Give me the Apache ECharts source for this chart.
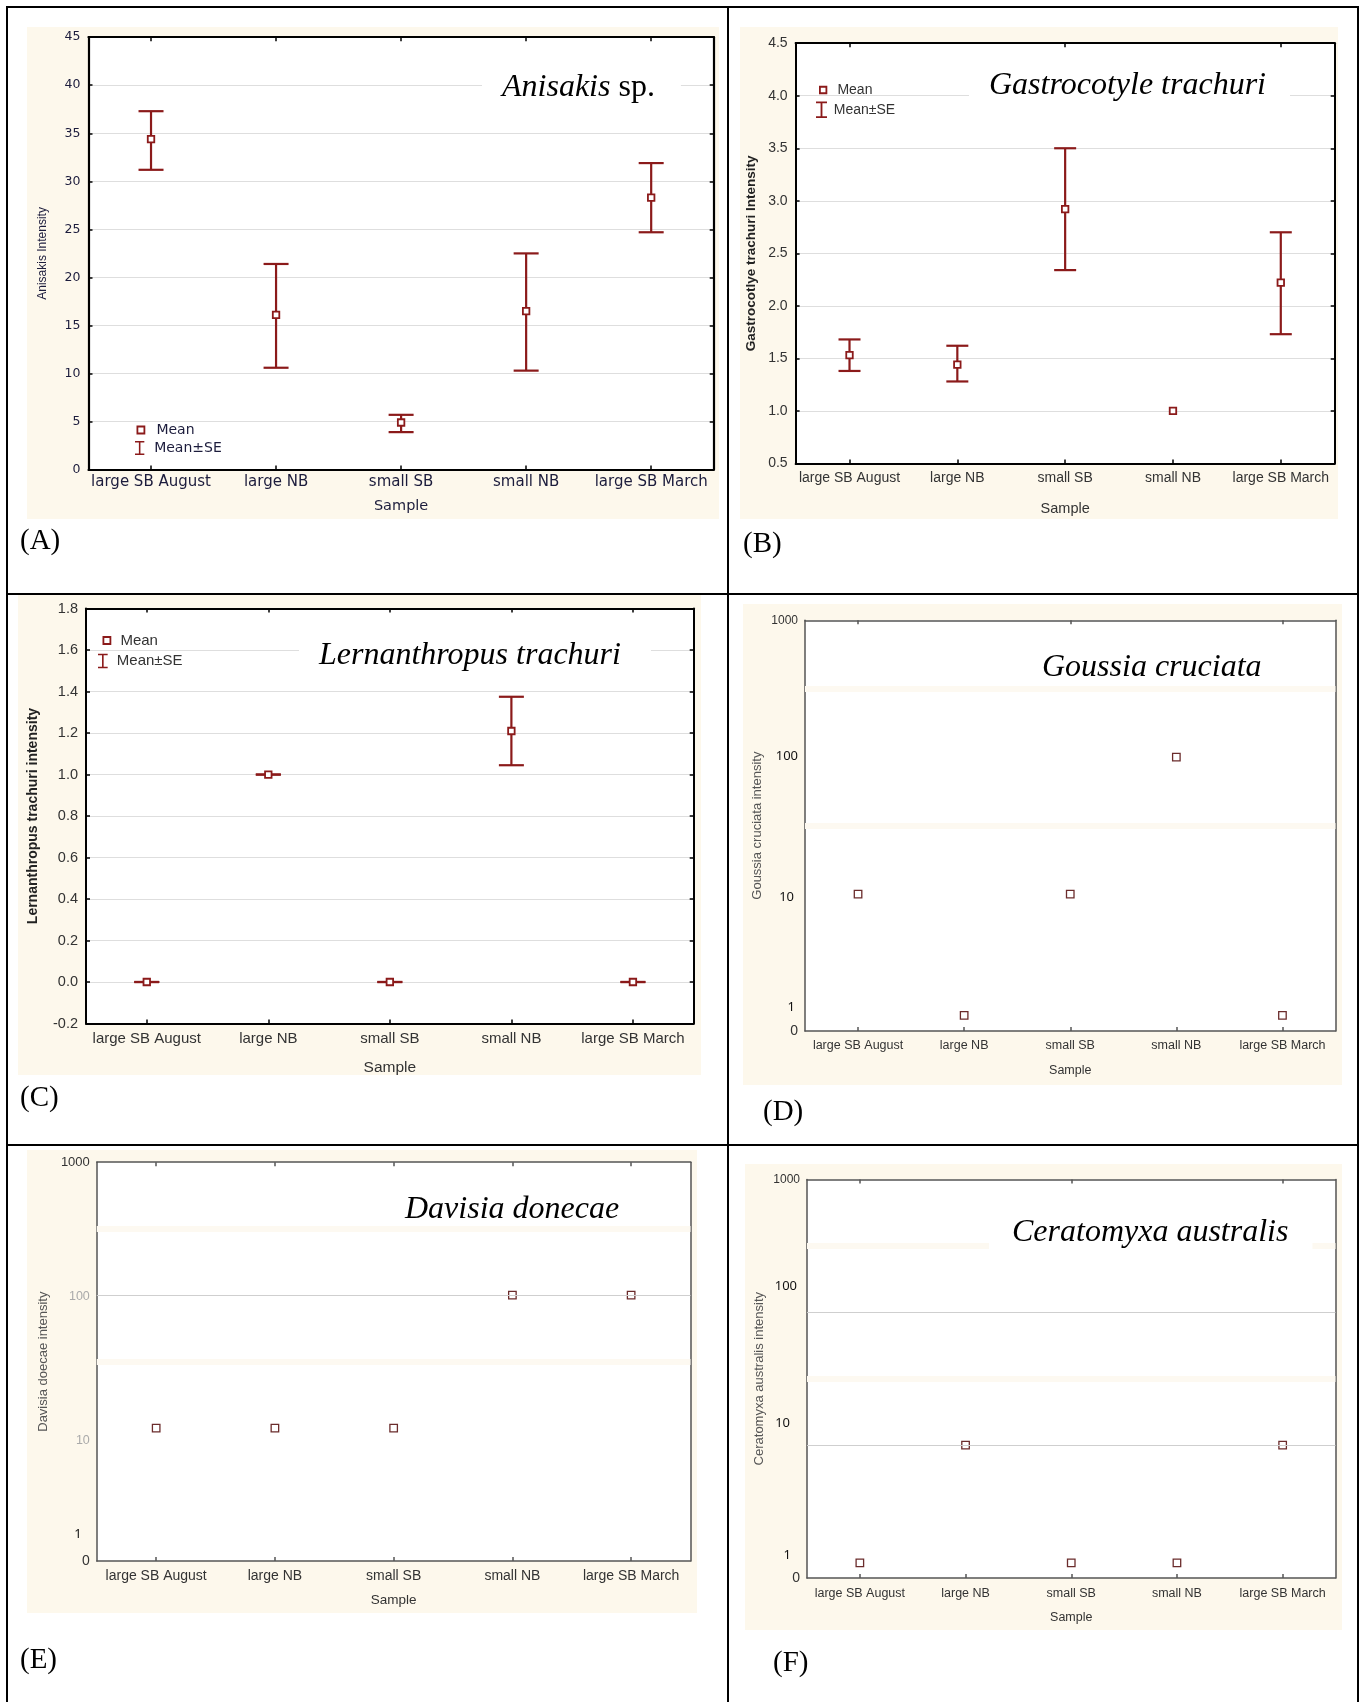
<!DOCTYPE html>
<html>
<head>
<meta charset="utf-8">
<script src="https://cdn.jsdelivr.net/npm/echarts@6/dist/echarts.min.js"></script>
<style>
  html, body { margin: 0; padding: 0; background: #fff; }
  #frame { position: relative; width: 1365px; height: 1702px; background: #fff; overflow: hidden; }
  .bg { position: absolute; background: #fdf8ec; }
  .ln { position: absolute; background: #000; }
  #chart { position: absolute; left: 0; top: 0; width: 1365px; height: 1702px; }
</style>
</head>
<body>
<div id="frame">
  <div class="bg" style="left:27px;top:27px;width:692px;height:492px"></div>
  <div class="bg" style="left:740px;top:27px;width:598px;height:492px"></div>
  <div class="bg" style="left:18px;top:595px;width:683px;height:480px"></div>
  <div class="bg" style="left:743px;top:604px;width:599px;height:481px"></div>
  <div class="bg" style="left:27px;top:1150px;width:670px;height:463px"></div>
  <div class="bg" style="left:745px;top:1164px;width:597px;height:466px"></div>
  <div class="ln" style="left:6px;top:6px;width:1353px;height:2px"></div>
  <div class="ln" style="left:6px;top:593px;width:1353px;height:2px"></div>
  <div class="ln" style="left:6px;top:1144px;width:1353px;height:2px"></div>
  <div class="ln" style="left:6px;top:6px;width:2px;height:1696px"></div>
  <div class="ln" style="left:727px;top:6px;width:2px;height:1696px"></div>
  <div class="ln" style="left:1357px;top:6px;width:2px;height:1696px"></div>
  <div id="chart"></div>
</div>
<script>
// ---------------- DATA ----------------
const categories = ['large SB August', 'large NB', 'small SB', 'small NB', 'large SB March'];

// (A) Anisakis sp.
const anisakisMean  = [34.4, 16.1, 4.9, 16.5, 28.3];
const anisakisUpper = [37.3, 21.4, 5.7, 22.5, 31.9];
const anisakisLower = [31.2, 10.6, 3.9, 10.3, 24.7];

// (B) Gastrocotyle trachuri
const gastroMean  = [1.53, 1.44, 2.92, 1.0, 2.22];
const gastroUpper = [1.68, 1.62, 3.50, null, 2.70];
const gastroLower = [1.38, 1.28, 2.34, null, 1.73];

// (C) Lernanthropus trachuri
const lernaMean  = [0, 1.0, 0, 1.21, 0];
const lernaUpper = [0, 1.0, 0, 1.375, 0];
const lernaLower = [0, 1.0, 0, 1.045, 0];

// (D)-(F) log-scale panels (values)
const goussiaMean = [10, 1.3, 10, 100, 1.3];
const davisiaMean = [10, 10, 10, 100, 100];
const ceratoMean  = [1.3, 10, 1.3, 1.3, 10];

// tick labels of the log panels and the value at which each label is printed
const logTickLabels  = ['0', '1', '10', '100', '1000'];
const goussiaTickAt  = [1, 1.48, 9.4, 102, 1000];
const davisiaTickAt  = [1, 1.59, 8.1, 97.5, 1000];
const ceratoTickAt   = [1, 1.47, 14.7, 157, 1000];
const davisiaGridAt  = [100];
const ceratoGridAt   = [10, 100];
const axisBreakAt    = [31.6, 316];

// ---------------- STYLE / LAYOUT ----------------
const RED = '#8b1a1a';
const panels = [
  { key: 'A', grid: {left: 88.5, top: 37.2, width: 625.2, height: 432.4},
    type: 'lin', min: 0, max: 45, interval: 5, fmt: v => String(v),
    mean: anisakisMean, up: anisakisUpper, lo: anisakisLower, cap: 12.5,
    axisColor: '#000', axisWidth: 2.2,
    tickFont: {fontFamily: 'DejaVu Sans', fontSize: 12.5, color: '#1c1c3c'},
    xFont: {fontFamily: 'DejaVu Sans', fontSize: 15, color: '#1c1c3c'}, xMargin: 5,
    xName: {fontFamily: 'DejaVu Sans', fontSize: 14.5, color: '#1c1c3c'}, xNameGap: 29,
    yName: 'Anisakis Intensity', yNameFont: {fontFamily: 'Liberation Sans', fontSize: 12, color: '#1c1c3c'}, yNameGap: 40,
    title: '{i|Anisakis} {r|sp.}', titlePos: {left: 482, top: 72}, titlePad: [0, 26, 0, 20],
    legend: {font: {fontFamily: 'DejaVu Sans', fontSize: 14, color: '#1c1c3c'},
             mean: {left: 136.5, top: 423, size: 7, pad: 7}, se: {left: 135, top: 441, w: 13, h: 14, pad: 3}},
    letter: {text: '(A)', x: 20, y: 543}
  },
  { key: 'B', grid: {left: 795.6, top: 43.2, width: 539.1, height: 420.2},
    type: 'lin', min: 0.5, max: 4.5, interval: 0.5, fmt: v => v.toFixed(1),
    mean: gastroMean, up: gastroUpper, lo: gastroLower, cap: 11,
    axisColor: '#000', axisWidth: 2,
    tickFont: {fontFamily: 'Liberation Sans', fontSize: 14, color: '#333'},
    xFont: {fontFamily: 'Liberation Sans', fontSize: 14, color: '#333'}, xMargin: 7.5,
    xName: {fontFamily: 'Liberation Sans', fontSize: 14.5, color: '#333'}, xNameGap: 38,
    yName: 'Gastrocotlye trachuri Intensity', yNameFont: {fontFamily: 'Liberation Sans', fontSize: 13.5, fontWeight: 'bold', color: '#222'}, yNameGap: 37,
    title: '{i|Gastrocotyle trachuri}', titlePos: {left: 969, top: 70}, titlePad: [0, 24, 0, 20],
    legend: {font: {fontFamily: 'Liberation Sans', fontSize: 14, color: '#333'},
             mean: {left: 819, top: 83, size: 6.5, pad: 6}, se: {left: 816, top: 101.5, w: 12.5, h: 16.5, pad: 1}},
    letter: {text: '(B)', x: 743, y: 546}
  },
  { key: 'C', grid: {left: 86, top: 608.6, width: 607.7, height: 414.9},
    type: 'lin', min: -0.2, max: 1.8, interval: 0.2, fmt: v => v.toFixed(1),
    mean: lernaMean, up: lernaUpper, lo: lernaLower, cap: 12.5,
    axisColor: '#000', axisWidth: 2,
    tickFont: {fontFamily: 'Liberation Sans', fontSize: 14.5, color: '#333'},
    xFont: {fontFamily: 'Liberation Sans', fontSize: 15, color: '#333'}, xMargin: 8,
    xName: {fontFamily: 'Liberation Sans', fontSize: 15.5, color: '#333'}, xNameGap: 36,
    yName: 'Lernanthropus trachuri intensity', yNameFont: {fontFamily: 'Liberation Sans', fontSize: 14, fontWeight: 'bold', color: '#222'}, yNameGap: 46,
    title: '{i|Lernanthropus trachuri}', titlePos: {left: 299, top: 640}, titlePad: [0, 30, 0, 20],
    legend: {font: {fontFamily: 'Liberation Sans', fontSize: 15, color: '#333'},
             mean: {left: 102.5, top: 633, size: 7, pad: 5}, se: {left: 98, top: 653.5, w: 16, h: 14.5, pad: 1}},
    letter: {text: '(C)', x: 20, y: 1100}
  },
  { key: 'D', grid: {left: 805, top: 620.3, width: 530.5, height: 410.7},
    type: 'log', mean: goussiaMean, tickAt: goussiaTickAt, gridAt: [],
    tickStyles: ['n0', 'cal', 'cal', 'cal', 'n1000'], tickPad: [0, 3, 4, 0, 0],
    axisColor: '#555', axisWidth: 1.5,
    xFont: {fontFamily: 'Liberation Sans', fontSize: 12.5, color: '#333'}, xMargin: 8.5,
    xName: {fontFamily: 'Liberation Sans', fontSize: 12.5, color: '#333'}, xNameGap: 33,
    yName: 'Goussia cruciata intensity', yNameFont: {fontFamily: 'Liberation Sans', fontSize: 13, color: '#555'}, yNameGap: 41,
    title: '{i|Goussia cruciata}', titlePos: {left: 1022, top: 652}, titlePad: [0, 40, 0, 20],
    letter: {text: '(D)', x: 763, y: 1114}
  },
  { key: 'E', grid: {left: 96.8, top: 1162.2, width: 593.7, height: 398.9},
    type: 'log', mean: davisiaMean, tickAt: davisiaTickAt, gridAt: davisiaGridAt,
    tickStyles: ['n0', 'cal', 'gry', 'gry', 'n1000w'], tickPad: [0, 8, 0, 0, 0],
    axisColor: '#555', axisWidth: 1.5,
    xFont: {fontFamily: 'Liberation Sans', fontSize: 14, color: '#333'}, xMargin: 8,
    xName: {fontFamily: 'Liberation Sans', fontSize: 13.5, color: '#333'}, xNameGap: 32,
    yName: 'Davisia doecae intensity', yNameFont: {fontFamily: 'Liberation Sans', fontSize: 13, color: '#555'}, yNameGap: 47,
    title: '{i|Davisia donecae}', titlePos: {left: 377, top: 1194}, titlePad: [0, 27, 0, 28],
    letter: {text: '(E)', x: 20, y: 1662}
  },
  { key: 'F', grid: {left: 807, top: 1179.4, width: 528.5, height: 398.6},
    type: 'log', mean: ceratoMean, tickAt: ceratoTickAt, gridAt: ceratoGridAt,
    tickStyles: ['n0', 'cal', 'cal', 'cal', 'n1000'], tickPad: [0, 9, 10, 3, 0],
    axisColor: '#555', axisWidth: 1.5,
    xFont: {fontFamily: 'Liberation Sans', fontSize: 12.5, color: '#333'}, xMargin: 9,
    xName: {fontFamily: 'Liberation Sans', fontSize: 12.5, color: '#333'}, xNameGap: 33,
    yName: 'Ceratomyxa australis intensity', yNameFont: {fontFamily: 'Liberation Sans', fontSize: 13, color: '#555'}, yNameGap: 41.5,
    title: '{i|Ceratomyxa australis}', titlePos: {left: 989, top: 1217}, titlePad: [0, 24, 0, 23],
    letter: {text: '(F)', x: 773, y: 1665}
  }
];

const richTick = {
  n0:     {fontFamily: 'Liberation Sans Narrow, Liberation Sans', fontSize: 14, color: '#333'},
  n1000:  {fontFamily: 'Liberation Sans Narrow, Liberation Sans', fontSize: 12, color: '#333'},
  n1000w: {fontFamily: 'Liberation Sans', fontSize: 13, color: '#333'},
  cal:    {fontFamily: 'Noto Sans', fontSize: 13, color: '#111'},
  gry:    {fontFamily: 'Liberation Sans Narrow, Liberation Sans', fontSize: 12.5, color: '#aaa'}
};

const titleRich = {
  i: {fontFamily: 'Liberation Serif', fontStyle: 'italic', fontWeight: 'normal', fontSize: 32, color: '#000'},
  r: {fontFamily: 'Liberation Serif', fontStyle: 'normal', fontWeight: 'normal', fontSize: 32, color: '#000'}
};

const grids = [], xAxes = [], yAxes = [], series = [], titles = [], legends = [], graphics = [];
const IBAR = 'path://M0,0H12V2H7V16H12V18H0V16H5V2H0Z';

panels.forEach((p, k) => {
  grids.push(Object.assign({show: true, backgroundColor: '#fff', borderWidth: 0, containLabel: false}, p.grid));
  const axLine = {show: true, onZero: false, lineStyle: {color: p.axisColor, width: p.axisWidth}};
  const inTick = {show: true, inside: true, length: 4, alignWithLabel: true, lineStyle: {color: p.axisColor, width: 1.5}};
  xAxes.push({
    type: 'category', gridIndex: k, data: categories, position: 'bottom',
    boundaryGap: true, axisLine: axLine, axisTick: inTick,
    axisLabel: Object.assign({interval: 0, margin: p.xMargin}, p.xFont),
    name: 'Sample', nameLocation: 'middle', nameGap: p.xNameGap, nameTextStyle: p.xName,
    splitLine: {show: false}
  });
  xAxes.push({
    type: 'category', gridIndex: k, data: categories, position: 'top',
    boundaryGap: true, axisLine: axLine, axisTick: inTick, axisLabel: {show: false}, splitLine: {show: false}
  });

  let yl, yr;
  if (p.type === 'lin') {
    yl = {
      type: 'value', gridIndex: k, position: 'left', min: p.min, max: p.max, interval: p.interval,
      axisLine: axLine, axisTick: {show: true, inside: true, length: 4, lineStyle: {color: p.axisColor, width: 1.5}},
      axisLabel: Object.assign({margin: 8, formatter: p.fmt}, p.tickFont),
      splitLine: {show: true, lineStyle: {color: '#dedede', width: 1.2}},
      name: p.yName, nameLocation: 'middle', nameGap: p.yNameGap, nameTextStyle: p.yNameFont
    };
    yr = {
      type: 'value', gridIndex: k, position: 'right', min: p.min, max: p.max, interval: p.interval,
      axisLine: axLine, axisTick: {show: true, inside: true, length: 4, lineStyle: {color: p.axisColor, width: 1.5}},
      axisLabel: {show: false}, splitLine: {show: false}
    };
  } else {
    const tickPos = p.tickAt.map(v => Math.log10(v));
    const rich = {};
    p.tickStyles.forEach((s, i) => {
      rich['t' + i] = Object.assign({}, richTick[s], {padding: [0, p.tickPad[i], 0, 0]});
    });
    yl = {
      type: 'value', gridIndex: k, position: 'left', min: 0, max: 3,
      axisLine: axLine, axisTick: {show: false},
      axisLabel: {
        margin: 7, customValues: tickPos, rich: rich,
        formatter: v => {
          let best = 0, bd = Infinity;
          tickPos.forEach((t, i) => { const d = Math.abs(t - v); if (d < bd) { bd = d; best = i; } });
          return '{t' + best + '|' + logTickLabels[best] + '}';
        }
      },
      splitLine: {show: false},
      name: p.yName, nameLocation: 'middle', nameGap: p.yNameGap, nameTextStyle: p.yNameFont
    };
    yr = {
      type: 'value', gridIndex: k, position: 'right', min: 0, max: 3,
      axisLine: axLine, axisTick: {show: false}, axisLabel: {show: false}, splitLine: {show: false}
    };
  }
  yAxes.push(yl, yr);
  const xi = 2 * k, yi = 2 * k;

  if (p.type === 'lin') {
    const errData = [];
    p.mean.forEach((m, i) => { if (p.up[i] != null && p.lo[i] != null) errData.push([i, p.lo[i], p.up[i]]); });
    const cap = p.cap;
    series.push({
      type: 'custom', name: 'Mean±SE', xAxisIndex: xi, yAxisIndex: yi, z: 3, silent: true,
      itemStyle: {color: RED},
      encode: {x: 0, y: [1, 2]},
      renderItem: (params, api) => {
        const i = api.value(0), lo = api.value(1), hi = api.value(2);
        const a = api.coord([i, hi]), b = api.coord([i, lo]);
        const st = {stroke: RED, lineWidth: 2.2};
        return {type: 'group', children: [
          {type: 'line', shape: {x1: a[0], y1: a[1], x2: b[0], y2: b[1]}, style: st},
          {type: 'line', shape: {x1: a[0] - cap, y1: a[1], x2: a[0] + cap, y2: a[1]}, style: st},
          {type: 'line', shape: {x1: b[0] - cap, y1: b[1], x2: b[0] + cap, y2: b[1]}, style: st}
        ]};
      },
      data: errData
    });
    series.push({
      type: 'scatter', name: 'Mean', xAxisIndex: xi, yAxisIndex: yi, z: 4, silent: true,
      symbol: 'rect', symbolSize: 6.5,
      itemStyle: {color: '#fff', borderColor: RED, borderWidth: 1.8, opacity: 1},
      data: p.mean
    });
    const L = p.legend;
    legends.push({
      left: L.mean.left, top: L.mean.top, orient: 'vertical', itemWidth: L.mean.size, itemHeight: L.mean.size,
      selectedMode: false, padding: 0,
      textStyle: Object.assign({padding: [0, 0, 0, L.mean.pad]}, L.font),
      data: [{name: 'Mean', icon: 'rect', itemStyle: {color: '#fff', borderColor: RED, borderWidth: 1.8}}]
    });
    legends.push({
      left: L.se.left, top: L.se.top, orient: 'vertical', itemWidth: L.se.w, itemHeight: L.se.h,
      selectedMode: false, padding: 0,
      textStyle: Object.assign({padding: [0, 0, 0, L.se.pad]}, L.font),
      data: [{name: 'Mean±SE', icon: IBAR, itemStyle: {color: RED, borderWidth: 0}}]
    });
  } else {
    const ml = [];
    axisBreakAt.forEach(v => ml.push({yAxis: Math.log10(v), lineStyle: {color: '#fdf9f1', width: 6, type: 'solid'}}));
    p.gridAt.forEach(v => ml.push({yAxis: Math.log10(v), lineStyle: {color: '#cfcfcf', width: 1.2, type: 'solid'}}));
    series.push({
      type: 'scatter', name: 'bg' + p.key, xAxisIndex: xi, yAxisIndex: yi, z: 1, silent: true, data: [],
      markLine: {silent: true, symbol: 'none', label: {show: false}, animation: false, data: ml}
    });
    series.push({
      type: 'scatter', name: 'Intensity', xAxisIndex: xi, yAxisIndex: yi, z: 4, silent: true,
      symbol: 'rect', symbolSize: 7.5,
      itemStyle: {color: '#fff', borderColor: '#6b2c2c', borderWidth: 1.3, opacity: 1},
      data: p.mean.map(v => Math.log10(v))
    });
  }

  titles.push({
    text: p.title, left: p.titlePos.left, top: p.titlePos.top, padding: p.titlePad,
    backgroundColor: '#fff', z: 6,
    textStyle: {rich: titleRich, fontFamily: 'Liberation Serif', fontSize: 32, fontWeight: 'normal'}
  });
  graphics.push({
    type: 'text', left: p.letter.x, top: p.letter.y - 16, z: 10,
    style: {text: p.letter.text, fontFamily: 'Liberation Serif', fontSize: 29, fill: '#000'}
  });
});

const chart = echarts.init(document.getElementById('chart'), null, {renderer: 'canvas'});
chart.setOption({
  backgroundColor: 'transparent',
  animation: false,
  title: titles,
  legend: legends,
  grid: grids,
  xAxis: xAxes,
  yAxis: yAxes,
  series: series,
  graphic: graphics
});
</script>
</body>
</html>
